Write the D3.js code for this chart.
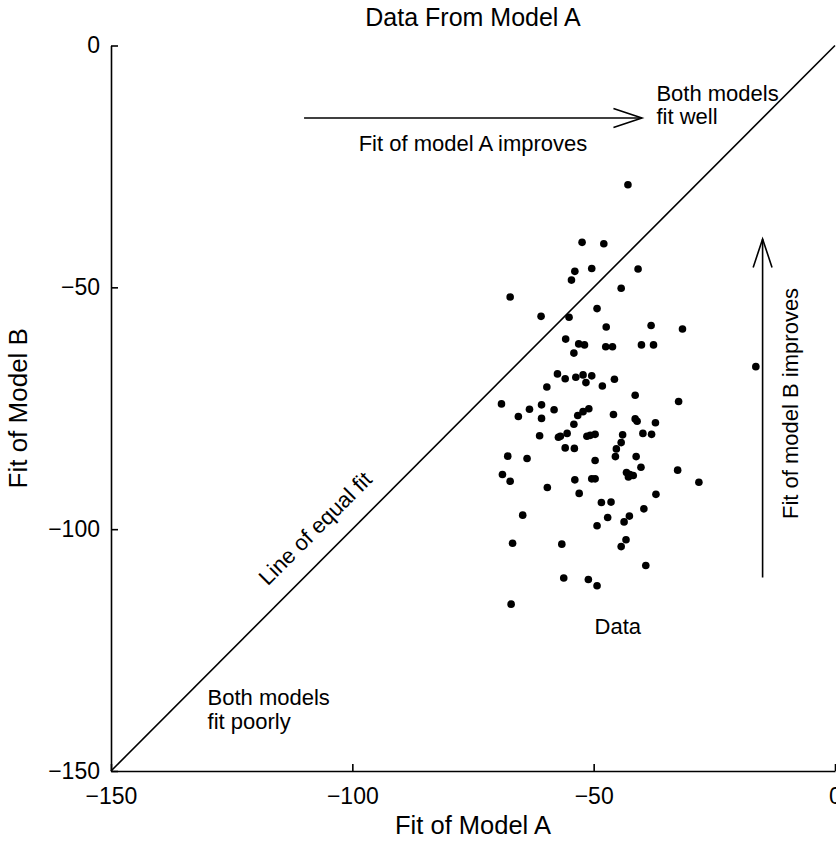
<!DOCTYPE html>
<html>
<head>
<meta charset="utf-8">
<script src="https://cdn.jsdelivr.net/npm/d3@7"></script>
<style>
  body { margin: 0; background: #fff; }
  svg text { font-family: "Liberation Sans", Arial, sans-serif; fill: #000; }
</style>
</head>
<body>
<div id="chart"></div>
<script>
// Fit of model A / model B for each data point
const fitA = [
  -42.9, -52.4, -47.9, -53.9, -50.4, -40.8, -54.6, -44.3, -67.3, -60.9,
  -55.1, -49.3, -47.4, -38.1, -31.6, -55.8, -53.1, -51.9, -54.1, -47.5,
  -46.1, -40.1, -37.6, -57.5, -55.9, -53.7, -52.2, -50.4, -51.6, -59.7,
  -48.2, -45.7, -41.4, -32.4, -69.1, -63.3, -60.8, -58.2, -65.6, -60.8,
  -51.0, -52.2, -53.3, -45.9, -41.4, -41.0, -37.2, -54.1, -61.2, -57.3,
  -56.9, -55.5, -51.4, -50.7, -49.7, -44.0, -39.8, -38.0, -44.3, -45.3,
  -55.9, -54.0, -67.8, -63.8, -45.5, -41.2, -49.7, -40.2, -32.6, -68.9,
  -43.2, -42.5, -41.8, -42.8, -67.3, -59.6, -53.9, -50.4, -49.7, -28.2,
  -53.0, -37.1, -48.4, -46.4, -39.6, -64.7, -47.1, -42.6, -43.7, -49.3,
  -66.8, -56.6, -43.3, -44.3, -39.2, -56.2, -51.1, -49.3, -67.1, -16.4
];
const fitB = [
  -28.8, -40.7, -41.0, -46.7, -46.1, -46.2, -48.5, -50.2, -52.0, -56.0,
  -56.2, -54.4, -58.2, -57.9, -58.6, -60.7, -61.7, -61.9, -63.6, -62.3,
  -62.3, -61.9, -61.9, -67.9, -68.9, -68.6, -68.1, -68.3, -69.7, -70.6,
  -70.4, -69.0, -72.3, -73.6, -74.1, -75.2, -74.3, -75.3, -76.7, -77.1,
  -75.1, -75.7, -76.5, -76.3, -77.2, -77.7, -78.0, -78.3, -80.7, -81.0,
  -80.8, -80.2, -80.8, -80.6, -80.4, -80.5, -80.2, -80.4, -82.1, -83.4,
  -83.2, -83.3, -84.9, -85.4, -85.0, -85.0, -85.8, -87.2, -87.8, -88.7,
  -88.3, -88.7, -88.9, -89.2, -90.1, -91.4, -89.8, -89.6, -89.6, -90.3,
  -92.6, -92.8, -94.5, -94.4, -95.8, -97.1, -97.6, -97.3, -98.5, -99.3,
  -102.9, -103.1, -102.2, -103.6, -107.5, -110.1, -110.4, -111.7, -115.5, -66.4
];
const xTicks = [-150, -100, -50, 0];
const yTicks = [-150, -100, -50, 0];

const width = 836, height = 842;
const margin = {top: 45.5, right: 1, bottom: 71, left: 111};

const svg = d3.select('#chart').append('svg')
  .attr('width', width)
  .attr('height', height);

const x = d3.scaleLinear().domain([-150, 0]).range([margin.left, width - margin.right]);
const y = d3.scaleLinear().domain([-150, 0]).range([height - margin.bottom, margin.top]);

// axes, ticks pointing inward like the original
const xAxis = svg.append('g')
  .attr('transform', 'translate(0,' + y(-150) + ')')
  .call(d3.axisBottom(x).tickValues(xTicks).tickSizeInner(-7).tickSizeOuter(0).tickPadding(17));
const yAxis = svg.append('g')
  .attr('transform', 'translate(' + x(-150) + ',0)')
  .call(d3.axisLeft(y).tickValues(yTicks).tickSizeInner(-7).tickSizeOuter(0).tickPadding(11));

[xAxis, yAxis].forEach(ax => {
  ax.selectAll('path, line').attr('stroke', '#000').attr('stroke-width', 1.6);
  ax.selectAll('text').attr('font-size', 23).attr('font-family', '"Liberation Sans", Arial, sans-serif').attr('fill', '#000');
});

// line of equal fit
svg.append('line')
  .attr('x1', x(-150)).attr('y1', y(-150))
  .attr('x2', x(0)).attr('y2', y(0))
  .attr('stroke', '#000').attr('stroke-width', 1.6);

// data points
svg.selectAll('circle.pt')
  .data(fitA.map((a, i) => ({a, b: fitB[i]})))
  .enter()
  .append('circle')
  .attr('class', 'pt')
  .attr('cx', d => x(d.a))
  .attr('cy', d => y(d.b))
  .attr('r', 3.8)
  .attr('fill', '#000');

// arrows
function arrow(x1, y1, x2, y2) {
  const ang = Math.atan2(y2 - y1, x2 - x1);
  const len = 30, spread = 0.32;
  svg.append('line')
    .attr('x1', x1).attr('y1', y1).attr('x2', x2).attr('y2', y2)
    .attr('stroke', '#000').attr('stroke-width', 1.6);
  const p = [
    [x2 - len * Math.cos(ang - spread), y2 - len * Math.sin(ang - spread)],
    [x2, y2],
    [x2 - len * Math.cos(ang + spread), y2 - len * Math.sin(ang + spread)]
  ];
  svg.append('path')
    .attr('d', d3.line()(p))
    .attr('fill', 'none').attr('stroke', '#000').attr('stroke-width', 1.6);
}
arrow(x(-110), y(-15), x(-40), y(-15));
arrow(x(-15), y(-110), x(-15), y(-40));

function label(txt, px, py, opts) {
  opts = opts || {};
  const t = svg.append('text')
    .attr('x', px).attr('y', py)
    .attr('font-size', opts.size || 22)
    .attr('text-anchor', opts.anchor || 'start')
    .text(txt);
  if (opts.rotate) t.attr('transform', 'rotate(' + opts.rotate + ',' + px + ',' + py + ')');
  if (opts.dy) t.attr('dy', opts.dy);
  return t;
}

// title and axis titles
label('Data From Model A', (x(-150) + x(0)) / 2, 26, {anchor: 'middle', size: 25});
label('Fit of Model A', (x(-150) + x(0)) / 2, 834, {anchor: 'middle', size: 25.5});
label('Fit of Model B', 27, (y(-150) + y(0)) / 2, {anchor: 'middle', size: 26, rotate: -90});

// annotations
label('Fit of model A improves', x(-75), y(-21.9), {anchor: 'middle'});
label('Both models', x(-37), y(-11.4));
label('fit well', x(-37), y(-16.3));
label('Fit of model B improves', x(-9.3), y(-74), {anchor: 'middle', rotate: -90, dy: '0.35em'});
label('Data', x(-45), y(-121.6), {anchor: 'middle'});
label('Both models', x(-130), y(-136.4));
label('fit poorly', x(-130), y(-141.3));
label('Line of equal fit', x(-107.7), y(-99.8), {anchor: 'middle', rotate: -45, dy: '0.35em'});
</script>
</body>
</html>
